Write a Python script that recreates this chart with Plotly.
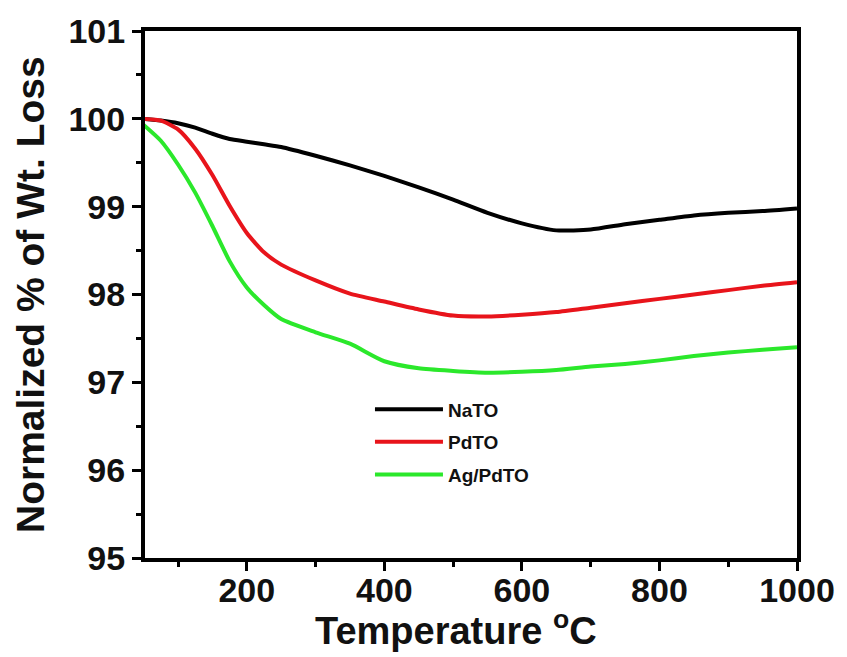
import plotly.graph_objects as go

temperature = [50, 75, 100, 125, 150, 175, 200, 225, 250, 300, 350, 400, 450,
               500, 550, 600, 650, 700, 750, 800, 850, 900, 950, 1000]
nato = [100.0, 99.98, 99.95, 99.9, 99.83, 99.77, 99.74, 99.71, 99.68, 99.58, 99.47,
        99.35, 99.22, 99.08, 98.93, 98.81, 98.73, 98.74, 98.8, 98.85, 98.9, 98.93,
        98.95, 98.98]
pdto = [100.0, 99.98, 99.88, 99.66, 99.36, 99.01, 98.7, 98.48, 98.34, 98.16, 98.01,
        97.92, 97.83, 97.76, 97.75, 97.77, 97.8, 97.85, 97.9, 97.95, 98.0, 98.05,
        98.1, 98.14]
agpdto = [99.93, 99.75, 99.48, 99.16, 98.78, 98.38, 98.08, 97.88, 97.72, 97.57, 97.44,
          97.24, 97.16, 97.13, 97.11, 97.12, 97.14, 97.18, 97.21, 97.25, 97.3, 97.34,
          97.37, 97.4]
series_names = ["NaTO", "PdTO", "Ag/PdTO"]
series_colors = ["#000000", "#e8141b", "#2be82b"]
x_ticks = [200, 400, 600, 800, 1000]
y_ticks = [95, 96, 97, 98, 99, 100, 101]

FONT = "Liberation Sans, Arial, sans-serif"

fig = go.Figure()
for i, (name, vals, col) in enumerate(zip(series_names, [nato, pdto, agpdto], series_colors)):
    fig.add_trace(go.Scatter(x=temperature, y=vals, mode="lines", name=name,
                             legendgroup=f"g{i}",
                             line=dict(color=col, width=4, shape="spline", smoothing=0.6)))

axis_font = dict(family=FONT, size=34, color="#111", weight="bold")
fig.update_layout(
    width=847, height=657,
    margin=dict(l=145, r=47, t=30, b=99),
    plot_bgcolor="white", paper_bgcolor="white",
    font=dict(family=FONT, color="#111"),
    showlegend=True,
    legend=dict(x=(371 - 145) / 655, y=(558 - 390) / 528, xanchor="left", yanchor="top",
                bgcolor="rgba(0,0,0,0)", tracegroupgap=5,
                font=dict(size=19, family=FONT, color="#111", weight="bold"),
                itemwidth=68),
    annotations=[
        dict(text="<b>Temperature <sup>o</sup>C</b>", xref="paper", yref="paper",
             x=(457 - 145) / 655, y=(558 - 628) / 528, xanchor="center", yanchor="middle",
             showarrow=False, font=dict(family=FONT, size=38, color="#111")),
        dict(text="<b>Normalized % of Wt. Loss</b>", xref="paper", yref="paper",
             x=(30 - 145) / 655, y=0.5, xanchor="center", yanchor="middle", textangle=-90,
             showarrow=False, font=dict(family=FONT, size=39, color="#111")),
    ],
)
fig.update_xaxes(
    range=[52, 1000], tickvals=x_ticks, ticktext=[str(v) for v in x_ticks],
    showgrid=False, zeroline=False,
    showline=True, linecolor="black", linewidth=4, mirror=True,
    ticks="outside", ticklen=9, tickwidth=3, tickcolor="black",
    minor=dict(tickvals=[100, 300, 500, 700, 900], ticks="outside", ticklen=5,
               tickwidth=3, tickcolor="black"),
    tickfont=axis_font, ticklabelstandoff=-10,
)
fig.update_yaxes(
    range=[95, 101], tickvals=y_ticks, ticktext=[str(v) for v in y_ticks],
    showgrid=False, zeroline=False,
    showline=True, linecolor="black", linewidth=4, mirror=True,
    ticks="outside", ticklen=9, tickwidth=3, tickcolor="black",
    minor=dict(tickvals=[95.5, 96.5, 97.5, 98.5, 99.5, 100.5], ticks="outside", ticklen=5,
               tickwidth=3, tickcolor="black"),
    tickfont=axis_font,
)

fig.write_html("out.html")
